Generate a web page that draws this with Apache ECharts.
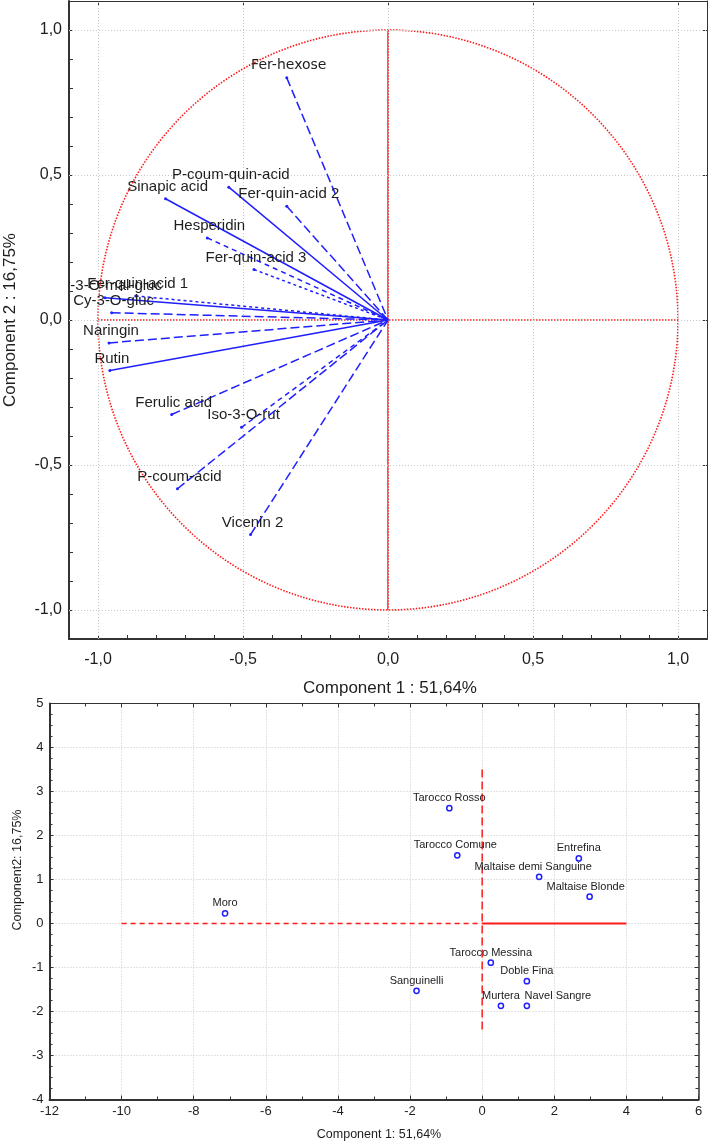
<!DOCTYPE html>
<html><head><meta charset="utf-8">
<script src="https://cdn.jsdelivr.net/npm/echarts@6/dist/echarts.min.js"></script>
<style>html,body{margin:0;padding:0;background:#fff}#c{width:709px;height:1142px}</style>
</head><body><div id="c"></div>
<script>
// ---- Loadings (top panel) ----
const loadingNames = ['Fer-hexose','P-coum-quin-acid','Sinapic acid','Fer-quin-acid 2','Hesperidin','Fer-quin-acid 3','Fer-quin-acid 1','Cy-3-O-mal-gluc','Cy-3-O-gluc','Naringin','Rutin','Ferulic acid','Iso-3-O-rut','P-coum-acid','Vicenin 2'];
const loadingPC1 = [-0.349,-0.549,-0.767,-0.349,-0.623,-0.462,-0.870,-0.976,-0.953,-0.962,-0.959,-0.746,-0.505,-0.726,-0.474];
const loadingPC2 = [0.835,0.458,0.418,0.392,0.283,0.174,0.083,0.077,0.025,-0.079,-0.174,-0.326,-0.370,-0.582,-0.740];
const loadingTicks = [-1, -0.5, 0, 0.5, 1];
const circleData = [[0, 0, 1]];
const axisRefV = [[0, 1], [0, -1]];
const axisRefH = [[-1, 0], [1, 0]];

// ---- Scores (bottom panel) ----
const sampleNames = ['Moro','Tarocco Rosso','Tarocco Comune','Entrefina','Maltaise demi Sanguine','Maltaise Blonde','Tarocco Messina','Doble Fina','Sanguinelli','Murtera','Navel Sangre'];
const samplePC1 = [-7.13,-0.91,-0.69,2.68,1.58,2.98,0.24,1.24,-1.82,0.52,1.24];
const samplePC2 = [0.23,2.62,1.55,1.48,1.06,0.61,-0.89,-1.31,-1.53,-1.87,-1.87];
const scoreRefLeft = [[-10, 0], [0, 0]];
const scoreRefRight = [[0, 0], [4, 0]];
const scoreRefV = [[0, 3.5], [0, -2.5]];

// styles (kept separate from data)
const DASH = { solid: null, long: [9, 4], medium: [5, 4], short: [3, 3] };
const dashByName = {
  'Fer-hexose':'long','P-coum-quin-acid':'solid','Sinapic acid':'solid','Fer-quin-acid 2':'long',
  'Hesperidin':'medium','Fer-quin-acid 3':'short','Fer-quin-acid 1':'short','Cy-3-O-mal-gluc':'solid',
  'Cy-3-O-gluc':'long','Naringin':'long','Rutin':'solid','Ferulic acid':'long','Iso-3-O-rut':'medium',
  'P-coum-acid':'long','Vicenin 2':'long'
};
const fontByName = { 'Fer-hexose': '14px "DejaVu Sans"' };
const sampleLabelShift = { 'Navel Sangre': 31, 'Maltaise demi Sanguine': -6, 'Maltaise Blonde': -4, 'Tarocco Comune': -2 };
const BLUE = '#1f1fff', RED = '#ff1a1a', TXT = '#1e1e1e', GRID = '#c8c8c8';
const FONT = '"Liberation Sans", Arial, sans-serif';

const minorTop = [];
for (let k = -11; k <= 11; k++) minorTop.push(k / 10);
const fmt1 = v => v.toFixed(1).replace('.', ',').replace('-0,0', '0,0');

const chart = echarts.init(document.getElementById('c'), null, { renderer: 'canvas' });

function mainAxis(grid, pos, min, max, opts) {
  return Object.assign({
    type: 'value', gridIndex: grid, position: pos, min: min, max: max,
    axisLine: { show: true, onZero: false, lineStyle: { color: '#333', width: 2 } },
    splitLine: { show: false },
  }, opts);
}

const option = {
  animation: false,
  backgroundColor: '#fff',
  grid: [
    { left: 69, top: 1, width: 638, height: 638, show: false },
    { left: 49.5, top: 703.5, width: 649, height: 396, show: false }
  ],
  xAxis: [
    mainAxis(0, 'bottom', -1.1, 1.1, {
      axisTick: { show: true, inside: true, length: 4, customValues: minorTop, lineStyle: { color: '#333' } },
      axisLabel: { customValues: loadingTicks, formatter: fmt1, fontSize: 16, fontFamily: FONT, color: TXT, margin: 13 }
    }),
    mainAxis(0, 'top', -1.1, 1.1, {
      axisLine: { show: true, onZero: false, lineStyle: { color: '#333', width: 1 } },
      axisTick: { show: true, inside: true, length: 4, customValues: loadingTicks, lineStyle: { color: '#333' } },
      axisLabel: { show: false }
    }),
    mainAxis(1, 'bottom', -12, 6, {
      interval: 2,
      axisTick: { show: true, inside: true, length: 4, lineStyle: { color: '#333' } },
      minorTick: { show: true, splitNumber: 2, length: 3, lineStyle: { color: '#333' } },
      axisLabel: { fontSize: 13, fontFamily: FONT, color: TXT, margin: 5 },
      splitLine: { show: true, lineStyle: { color: GRID, type: [1, 2], width: 1 } }
    }),
    mainAxis(1, 'top', -12, 6, {
      interval: 2,
      axisLine: { show: true, onZero: false, lineStyle: { color: '#333', width: 1 } },
      axisTick: { show: true, inside: true, length: 4, lineStyle: { color: '#333' } },
      minorTick: { show: true, splitNumber: 2, length: 3, lineStyle: { color: '#333' } },
      axisLabel: { show: false }
    })
  ],
  yAxis: [
    mainAxis(0, 'left', -1.1, 1.1, {
      axisTick: { show: true, inside: true, length: 4, customValues: minorTop, lineStyle: { color: '#333' } },
      axisLabel: { customValues: loadingTicks, formatter: fmt1, fontSize: 16, fontFamily: FONT, color: TXT, margin: 7 }
    }),
    mainAxis(0, 'right', -1.1, 1.1, {
      axisLine: { show: true, onZero: false, lineStyle: { color: '#333', width: 1 } },
      axisTick: { show: true, inside: true, length: 4, customValues: loadingTicks, lineStyle: { color: '#333' } },
      axisLabel: { show: false }
    }),
    mainAxis(1, 'left', -4, 5, {
      interval: 1,
      axisTick: { show: true, inside: true, length: 4, lineStyle: { color: '#333' } },
      minorTick: { show: true, splitNumber: 4, length: 3, lineStyle: { color: '#333' } },
      axisLabel: { fontSize: 13, fontFamily: FONT, color: TXT, margin: 6 },
      splitLine: { show: true, lineStyle: { color: GRID, type: [1, 2], width: 1 } }
    }),
    mainAxis(1, 'right', -4, 5, {
      interval: 1,
      axisLine: { show: true, onZero: false, lineStyle: { color: '#333', width: 1.5 } },
      axisTick: { show: true, inside: true, length: 4, lineStyle: { color: '#333' } },
      minorTick: { show: true, splitNumber: 4, length: 3, lineStyle: { color: '#333' } },
      axisLabel: { show: false }
    })
  ],
  graphic: [
    { type: 'text', x: 10, y: 320, rotation: Math.PI / 2, style: { text: 'Component 2 : 16,75%', font: '17px ' + FONT, fill: TXT, align: 'center', verticalAlign: 'middle' } },
    { type: 'text', x: 390, y: 688, style: { text: 'Component 1 : 51,64%', font: '17px ' + FONT, fill: TXT, align: 'center', verticalAlign: 'middle' } },
    { type: 'text', x: 379, y: 1135, style: { text: 'Component 1: 51,64%', font: '12.5px ' + FONT, fill: TXT, align: 'center', verticalAlign: 'middle' } },
    { type: 'text', x: 17.5, y: 870, rotation: Math.PI / 2, style: { text: 'Component2: 16,75%', font: '12.5px ' + FONT, fill: TXT, align: 'center', verticalAlign: 'middle' } }
  ],
  series: [
    // top: grid lines + red reference lines
    {
      type: 'line', xAxisIndex: 0, yAxisIndex: 0, data: axisRefH, symbol: 'none', z: 2, silent: true,
      lineStyle: { color: RED, width: 1.5, type: [1.5, 1.5] },
      markLine: {
        silent: true, symbol: 'none', label: { show: false }, animation: false,
        lineStyle: { color: GRID, type: [1, 2], width: 1 },
        data: loadingTicks.map(v => ({ xAxis: v })).concat(loadingTicks.map(v => ({ yAxis: v })))
      }
    },
    {
      type: 'line', xAxisIndex: 0, yAxisIndex: 0, data: axisRefV, symbol: 'none', z: 3, silent: true,
      lineStyle: { color: RED, width: 1.5 }
    },
    {
      type: 'custom', xAxisIndex: 0, yAxisIndex: 0, data: circleData, z: 3, silent: true,
      renderItem: (params, api) => {
        const c = api.coord([api.value(0), api.value(1)]);
        const r = api.size([api.value(2), 0])[0];
        return { type: 'circle', shape: { cx: c[0], cy: c[1], r: r },
          style: { fill: 'none', stroke: RED, lineWidth: 1.6, lineDash: [1.5, 1.5] } };
      }
    },
    {
      type: 'custom', xAxisIndex: 0, yAxisIndex: 0, z: 5, clip: true, silent: true,
      data: loadingNames.map((n, i) => [loadingPC1[i], loadingPC2[i], i]),
      renderItem: (params, api) => {
        const i = api.value(2);
        const name = loadingNames[i];
        const o = api.coord([0, 0]);
        const p = api.coord([api.value(0), api.value(1)]);
        return { type: 'group', children: [
          { type: 'line', shape: { x1: p[0], y1: p[1], x2: o[0], y2: o[1] },
            style: { stroke: BLUE, lineWidth: 1.5, lineDash: DASH[dashByName[name]] } },
          { type: 'circle', shape: { cx: p[0], cy: p[1], r: 1.5 }, style: { fill: BLUE } },
          { type: 'text', x: p[0] + 2, y: p[1] - 12,
            style: { text: name, font: fontByName[name] || ('15px ' + FONT), fill: TXT, align: 'center', verticalAlign: 'middle' } }
        ] };
      }
    },
    // bottom: red reference lines
    {
      type: 'line', xAxisIndex: 2, yAxisIndex: 2, data: scoreRefLeft, symbol: 'none', z: 3, silent: true,
      lineStyle: { color: RED, width: 1.5, type: [5, 4] }
    },
    {
      type: 'line', xAxisIndex: 2, yAxisIndex: 2, data: scoreRefRight, symbol: 'none', z: 3, silent: true,
      lineStyle: { color: RED, width: 2 }
    },
    {
      type: 'line', xAxisIndex: 2, yAxisIndex: 2, data: scoreRefV, symbol: 'none', z: 3, silent: true,
      lineStyle: { color: RED, width: 1.5, type: [8, 4] }
    },
    {
      type: 'custom', xAxisIndex: 2, yAxisIndex: 2, z: 5, silent: true,
      data: sampleNames.map((n, i) => [samplePC1[i], samplePC2[i], i]),
      renderItem: (params, api) => {
        const i = api.value(2);
        const name = sampleNames[i];
        const p = api.coord([api.value(0), api.value(1)]);
        const dx = sampleLabelShift[name] || 0;
        return { type: 'group', children: [
          { type: 'circle', shape: { cx: p[0], cy: p[1], r: 2.6 }, style: { fill: '#fff', stroke: BLUE, lineWidth: 1.5 } },
          { type: 'text', x: p[0] + dx, y: p[1] - 10,
            style: { text: name, font: '11px ' + FONT, fill: '#222', align: 'center', verticalAlign: 'middle' } }
        ] };
      }
    }
  ]
};
chart.setOption(option);
</script>
</body></html>
